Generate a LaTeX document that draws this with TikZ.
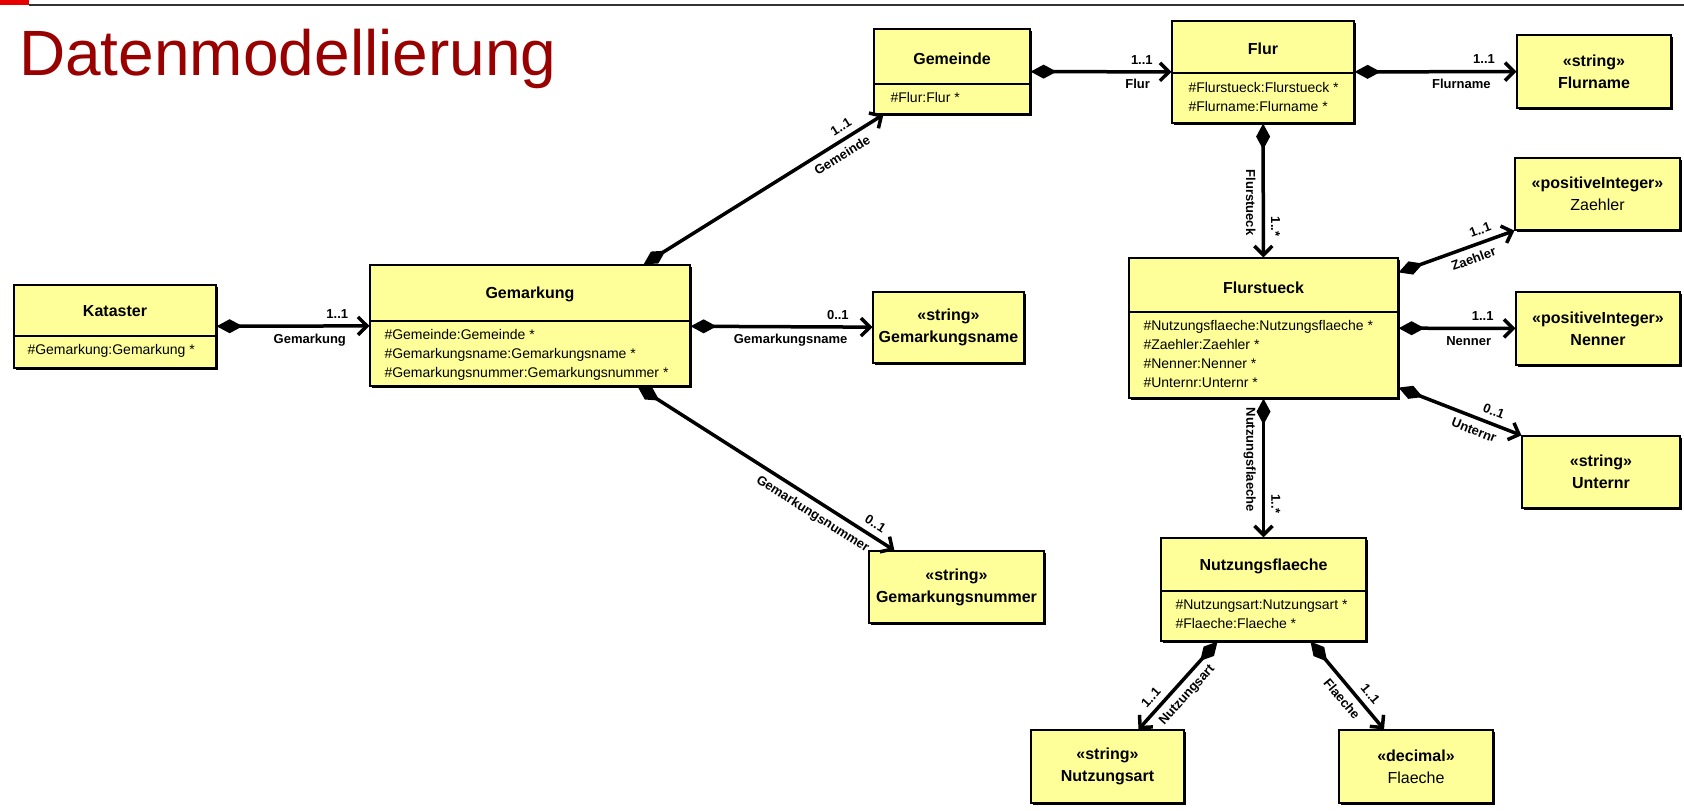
\documentclass[tikz,border=0pt]{standalone}
\usepackage{fontspec}
\setmainfont{Liberation Sans}
\usepackage{tikz}
\usetikzlibrary{arrows.meta,shadows}
\definecolor{umlfill}{RGB}{255,255,153}
\definecolor{titlered}{RGB}{153,0,0}
\definecolor{headred}{RGB}{230,0,0}
\tikzset{every node/.style={align=center}, font=\fontsize{13}{15}\selectfont\bfseries,
  cls/.style={draw, fill=umlfill, line width=1.2pt, inner sep=0pt,
    drop shadow={shadow xshift=2pt, shadow yshift=-2pt, fill=black, opacity=1}},
  sep/.style={line width=1.2pt},
  clsname/.style={font=\fontsize{16}{20}\selectfont\bfseries},
  attr/.style={anchor=west, align=left, font=\fontsize{14}{19}\selectfont\mdseries},
  dtype/.style={font=\fontsize{16}{22}\selectfont\bfseries},
  title/.style={anchor=base west, inner sep=0pt, text=titlered, font=\fontsize{64}{72}\selectfont\mdseries},
  comp/.style={line width=3.5pt,
    arrows={Diamond[length=26pt,width=14pt,line width=0pt]-Straight Barb[length=9pt,width=18pt]}},
  lbl/.style={font=\fontsize{13}{15}\selectfont\bfseries, inner sep=6pt}}

\begin{document}
\begin{tikzpicture}[x=1pt, y=-1pt]
            \useasboundingbox (0,0) rectangle (1684,811);
            % header
            \fill[headred] (0,0) rectangle (29,4.5);
            \draw[line width=2pt, black!80] (29,5) -- (1684,5);
            \node[title] (title) at (19,75) {Datenmodellierung};

            % classes
            \node[cls, minimum width=202pt, minimum height=83pt] (kataster) at (115,326.5) {};
            \node[cls, minimum width=320pt, minimum height=121pt] (gemarkung) at (530,325.5) {};
            \node[cls, minimum width=156pt, minimum height=85pt] (gemeinde) at (952,71.5) {};
            \node[cls, minimum width=182pt, minimum height=102pt] (flur) at (1263,72) {};
            \node[cls, minimum width=269pt, minimum height=140pt] (flurstueck) at (1263.5,328) {};
            \node[cls, minimum width=205pt, minimum height=103pt] (nutzungsflaeche) at (1263.5,589.5) {};

            \draw[sep] (kataster.west |- 0,336) -- (kataster.east |- 0,336);
            \draw[sep] (gemarkung.west |- 0,321) -- (gemarkung.east |- 0,321);
            \draw[sep] (gemeinde.west |- 0,84) -- (gemeinde.east |- 0,84);
            \draw[sep] (flur.west |- 0,73) -- (flur.east |- 0,73);
            \draw[sep] (flurstueck.west |- 0,312) -- (flurstueck.east |- 0,312);
            \draw[sep] (nutzungsflaeche.west |- 0,591) -- (nutzungsflaeche.east |- 0,591);

            \node[clsname] (kataster-name) at (115,311) {Kataster};
            \node[attr] (kataster-attr) at (24,351) {\#Gemarkung:Gemarkung *};
            \node[clsname] (gemarkung-name) at (530,294) {Gemarkung};
            \node[attr] (gemarkung-attr) at (381,355) {\#Gemeinde:Gemeinde *\\\#Gemarkungsname:Gemarkungsname *\\\#Gemarkungsnummer:Gemarkungsnummer *};
            \node[clsname] (gemeinde-name) at (952,59) {Gemeinde};
            \node[attr] (gemeinde-attr) at (887,97) {\#Flur:Flur *};
            \node[clsname] (flur-name) at (1263,49) {Flur};
            \node[attr] (flur-attr) at (1185,96.5) {\#Flurstueck:Flurstueck *\\\#Flurname:Flurname *};
            \node[clsname] (flurstueck-name) at (1263.5,288) {Flurstueck};
            \node[attr] (flurstueck-attr) at (1140,353.5) {\#Nutzungsflaeche:Nutzungsflaeche *\\\#Zaehler:Zaehler *\\\#Nenner:Nenner *\\\#Unternr:Unternr *};
            \node[clsname] (nutzungsflaeche-name) at (1263.5,566) {Nutzungsflaeche};
            \node[attr] (nutzungsflaeche-attr) at (1172,614.5) {\#Nutzungsart:Nutzungsart *\\\#Flaeche:Flaeche *};

            % data types
            \node[cls, dtype, minimum width=154pt, minimum height=73pt] (flurname) at (1594,71.5) {«string»\\Flurname};
            \node[cls, dtype, minimum width=165pt, minimum height=72pt] (zaehler) at (1597.5,194) {«positiveInteger»\\\mdseries Zaehler};
            \node[cls, dtype, minimum width=164pt, minimum height=73pt] (nenner) at (1598,328.5) {«positiveInteger»\\Nenner};
            \node[cls, dtype, minimum width=158pt, minimum height=72pt] (unternr) at (1601,472) {«string»\\Unternr};
            \node[cls, dtype, minimum width=151pt, minimum height=71pt] (gemarkungsname) at (948.5,327.5) {«string»\\Gemarkungsname};
            \node[cls, dtype, minimum width=175pt, minimum height=72pt] (gemarkungsnummer) at (956.5,587) {«string»\\Gemarkungsnummer};
            \node[cls, dtype, minimum width=153pt, minimum height=73pt] (nutzungsart) at (1107.5,766.5) {«string»\\Nutzungsart};
            \node[cls, dtype, minimum width=154pt, minimum height=73pt] (flaeche) at (1416,766.5) {«decimal»\\\mdseries Flaeche};

            % associations
            \path[comp] (kataster) edge node[lbl, pos=0.79, above] {1..1} node[lbl, pos=0.61, below] {Gemarkung} (gemarkung)
                (gemarkung) edge node[lbl, pos=0.81, above] {0..1} node[lbl, pos=0.55, below] {Gemarkungsname} (gemarkungsname)
                ([xshift=-47pt]gemarkung.north east) edge node[lbl, sloped, pos=0.85, above] {1..1} node[lbl, sloped, pos=0.8, below] {Gemeinde} ([xshift=10pt]gemeinde.south west)
                ([xshift=-53pt]gemarkung.south east) edge node[lbl, sloped, pos=0.9, above] {0..1} node[lbl, sloped, pos=0.71, below] {Gemarkungsnummer} ([xshift=26pt]gemarkungsnummer.north west)
                (gemeinde) edge node[lbl, pos=0.79, above] {1..1} node[lbl, pos=0.76, below] {Flur} (flur)
                (flur) edge node[lbl, pos=0.8, above] {1..1} node[lbl, pos=0.66, below] {Flurname} (flurname)
                    edge node[lbl, rotate=-90, pos=0.77, above] {1..*} node[lbl, rotate=-90, pos=0.59, below] {Flurstueck} (flurstueck)
                (flurstueck) edge node[lbl, pos=0.72, above] {1..1} node[lbl, pos=0.6, below] {Nenner} (nenner)
                    edge node[lbl, rotate=-90, pos=0.76, above] {1..*} node[lbl, rotate=-90, pos=0.44, below] {Nutzungsflaeche} (nutzungsflaeche)
                ([yshift=-15pt]flurstueck.north east) edge node[lbl, sloped, pos=0.74, above] {1..1} node[lbl, sloped, pos=0.61, below] {Zaehler} (zaehler.south west)
                ([yshift=11pt]flurstueck.south east) edge node[lbl, sloped, pos=0.74, above] {0..1} node[lbl, sloped, pos=0.65, below] {Unternr} (unternr.north west)
                ([xshift=-46pt]nutzungsflaeche.south) edge node[lbl, sloped, pos=0.73, above] {1..1} node[lbl, sloped, pos=0.51, below] {Nutzungsart} ([xshift=31pt]nutzungsart.north)
                ([xshift=47pt]nutzungsflaeche.south) edge node[lbl, sloped, pos=0.69, above] {1..1} node[lbl, sloped, pos=0.56, below] {Flaeche} ([xshift=-32pt]flaeche.north);
\end{tikzpicture}
\end{document}
